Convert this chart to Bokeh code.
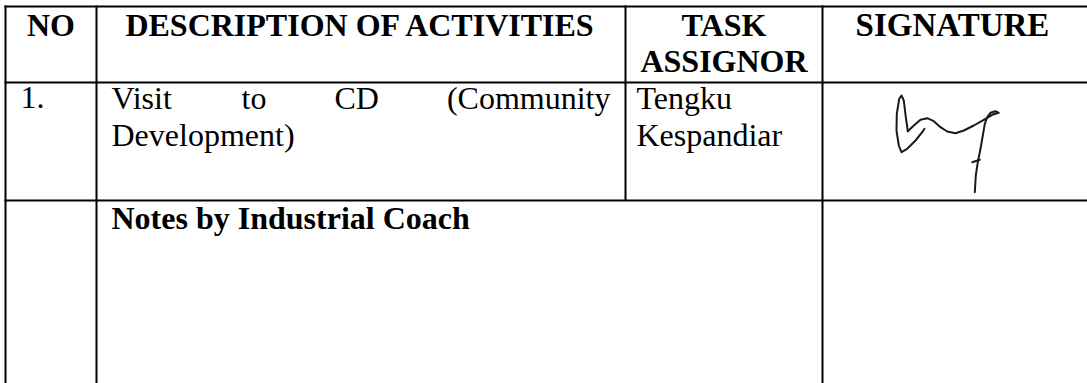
from bokeh.plotting import figure
from bokeh.models import Range1d
from bokeh.core.properties import value
from bokeh.embed import file_html
from bokeh.resources import INLINE

# ---------------- data ----------------
header_labels = ["NO", "DESCRIPTION OF ACTIVITIES", "TASK", "SIGNATURE"]
header_second_line = ["", "", "ASSIGNOR", ""]
row_no = "1."
activity_words = ["Visit", "to", "CD", "(Community"]
activity_line2 = "Development)"
assignor_lines = ["Tengku", "Kespandiar"]
notes_label = "Notes by Industrial Coach"

# handwritten signature strokes (page pixel coordinates)
sig_a_x = [907.3, 905.3, 903.3, 901.0, 898.7, 896.3, 896.0, 898.3, 901.0, 906.7, 915.0, 921.7, 924.0]
sig_a_y = [130.7, 116.7, 100.0, 95.0, 98.3, 113.3, 130.0, 145.0, 151.7, 148.3, 140.0, 131.7, 128.3]
sig_b_x = [907.3, 913.3, 920.0, 926.7, 933.3, 940.0, 946.7, 955.0, 963.3, 973.3, 983.3, 991.7,
           998.3, 995.0, 990.0, 986.7, 984.3, 982.3, 980.0, 977.3, 975.3, 974.3]
sig_b_y = [130.7, 125.0, 119.3, 117.7, 120.7, 126.7, 131.0, 132.7, 130.0, 125.0, 119.3, 114.3,
           112.3, 110.7, 112.3, 116.7, 123.3, 135.0, 148.3, 161.7, 175.0, 191.7]
sig_c_x = [971.7, 979.3]
sig_c_y = [161.7, 159.3]

# ---------------- layout ----------------
W, H = 1087, 383
col_edges = [5, 96, 625, 822, 1082]
row_edges = [6, 82, 200, 383]
PAD = 15
FONT = value("Liberation Serif")
FS = "32px"
SHIFT = 13          # compensation between requested and drawn baseline
BASE_H1, BASE_H2 = 37, 73
BASE_R1, BASE_R2 = 110, 147
BASE_N = 230

p = figure(width=W, height=H, output_backend="svg", toolbar_location=None,
           x_range=Range1d(0, W), y_range=Range1d(H, 0),
           x_axis_location=None, y_axis_location=None, min_border=0,
           outline_line_color=None, background_fill_color="white",
           border_fill_color="white")
p.grid.visible = False

# table rules
x0s, y0s, x1s, y1s = [], [], [], []
for y in row_edges[:3]:
    x0s.append(col_edges[0] - 1); x1s.append(W + 5); y0s.append(y); y1s.append(y)
for i, x in enumerate(col_edges[:4]):
    x0s.append(x); x1s.append(x); y0s.append(row_edges[0] - 1)
    y1s.append(row_edges[2] if i == 2 else H + 5)
p.segment(x0=x0s, y0=y0s, x1=x1s, y1=y1s, line_color="black", line_width=2)

def txt(xs, ys, labels, align="left", bold=False, size=FS):
    p.text(x=xs, y=[y - SHIFT for y in ys], text=labels, text_font=FONT, text_font_size=size,
           text_font_style="bold" if bold else "normal", text_align=align,
           text_baseline="alphabetic", text_color="black")

# header texts
centers = [(col_edges[i] + col_edges[i + 1]) / 2 for i in range(4)]
txt(centers[:3], [BASE_H1] * 3, header_labels[:3], align="center", bold=True)
txt([centers[3]], [BASE_H1], [header_labels[3]], align="center", bold=True, size="33px")
txt([centers[2]], [BASE_H2], [header_second_line[2]], align="center", bold=True)

# row 1
txt([col_edges[0] + 15], [BASE_R1], [row_no])
left = col_edges[1] + PAD
right = col_edges[2] - PAD
word_w = [62, 25, 44, 164]
gap = (right - left - sum(word_w)) / 3
xs = []
cur = left
for w in word_w:
    xs.append(cur)
    cur += w + gap
txt(xs[:3], [BASE_R1] * 3, activity_words[:3])
txt([right], [BASE_R1], [activity_words[3]], align="right")
txt([left], [BASE_R2], [activity_line2])
txt([col_edges[2] + 11] * 2, [BASE_R1, BASE_R2], assignor_lines)

# signature
p.multi_line(xs=[sig_a_x, sig_b_x, sig_c_x], ys=[sig_a_y, sig_b_y, sig_c_y],
             line_color="#1a1a1a", line_width=2, line_join="round", line_cap="round")

# notes row
txt([left], [BASE_N], [notes_label], bold=True)

open("out.html", "w").write(file_html(p, INLINE))
